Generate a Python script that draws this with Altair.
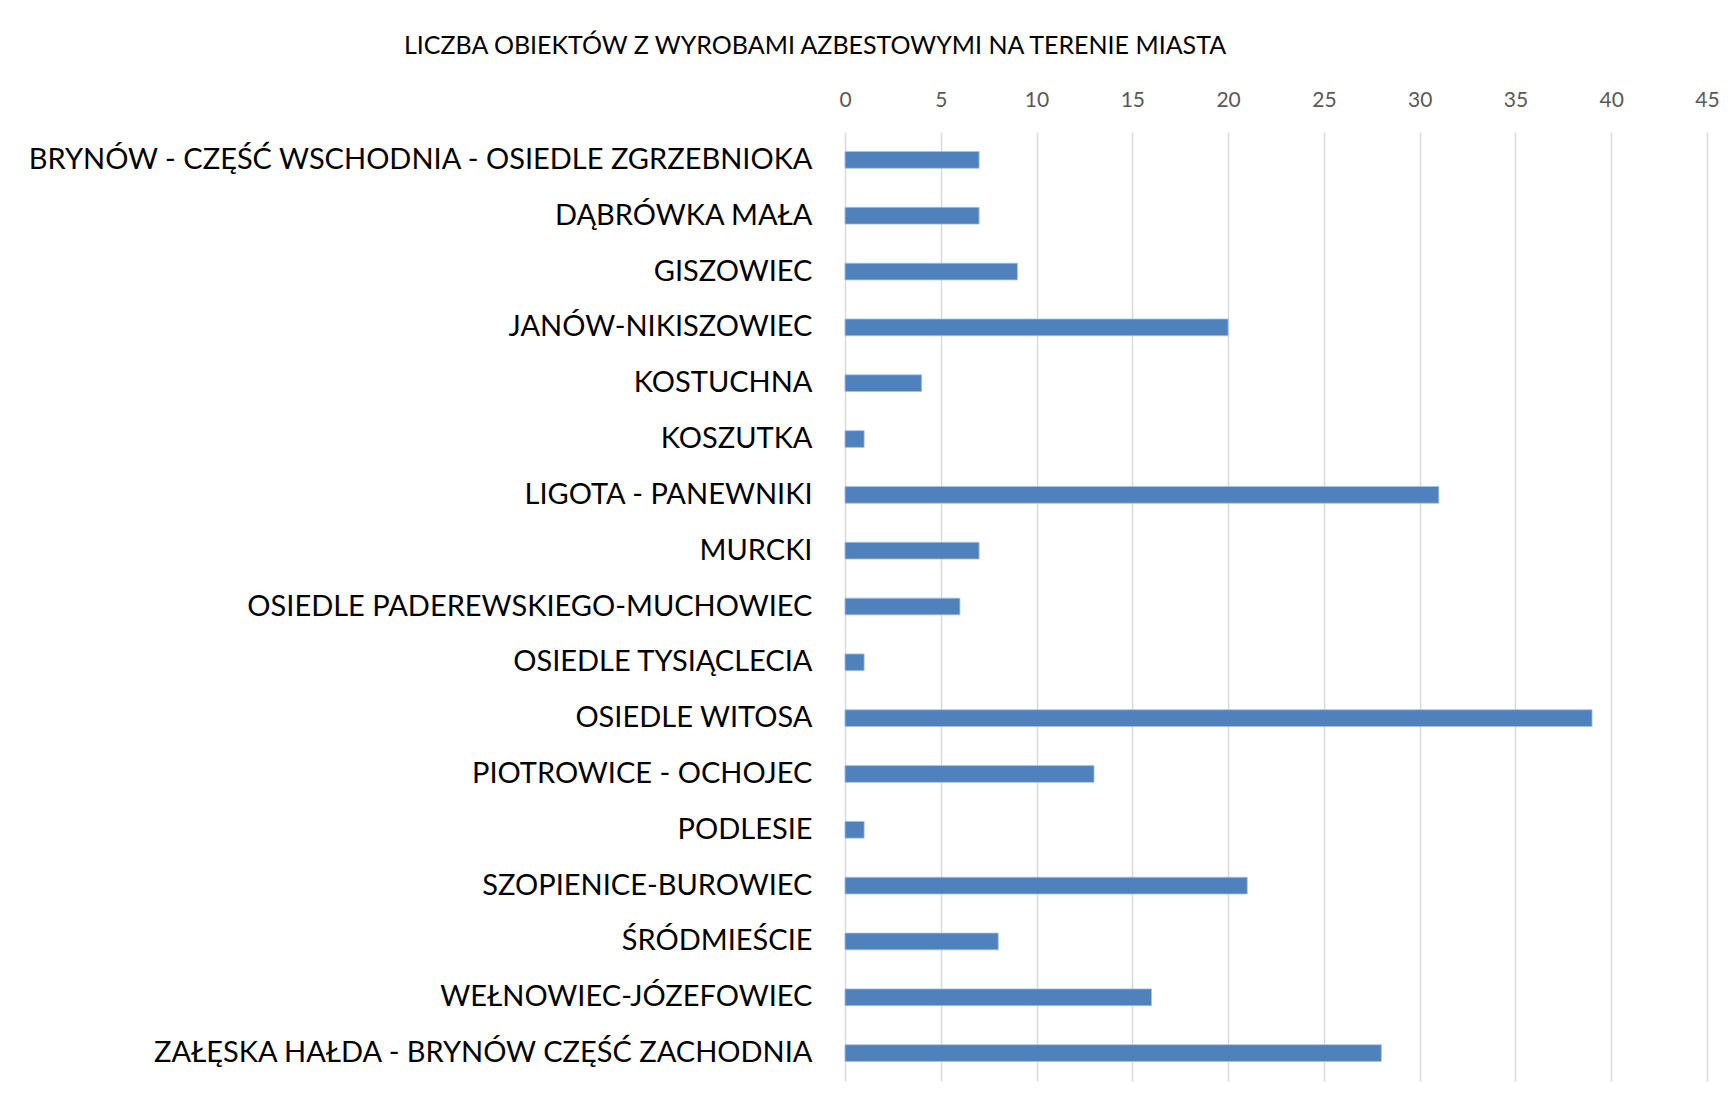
import altair as alt
import pandas as pd

categories = [
    "BRYNÓW - CZĘŚĆ WSCHODNIA - OSIEDLE ZGRZEBNIOKA",
    "DĄBRÓWKA MAŁA",
    "GISZOWIEC",
    "JANÓW-NIKISZOWIEC",
    "KOSTUCHNA",
    "KOSZUTKA",
    "LIGOTA - PANEWNIKI",
    "MURCKI",
    "OSIEDLE PADEREWSKIEGO-MUCHOWIEC",
    "OSIEDLE TYSIĄCLECIA",
    "OSIEDLE WITOSA",
    "PIOTROWICE - OCHOJEC",
    "PODLESIE",
    "SZOPIENICE-BUROWIEC",
    "ŚRÓDMIEŚCIE",
    "WEŁNOWIEC-JÓZEFOWIEC",
    "ZAŁĘSKA HAŁDA - BRYNÓW CZĘŚĆ ZACHODNIA",
]
values = [7, 7, 9, 20, 4, 1, 31, 7, 6, 1, 39, 13, 1, 21, 8, 16, 28]
x_ticks = [0, 5, 10, 15, 20, 25, 30, 35, 40, 45]
title_text = "LICZBA OBIEKTÓW Z WYROBAMI AZBESTOWYMI NA TERENIE MIASTA"

df = pd.DataFrame({"dzielnica": categories, "liczba": values})

chart = (
    alt.Chart(df)
    .mark_bar(color="#4F81BD", stroke="#A9C0DF", strokeWidth=0.8)
    .encode(
        x=alt.X(
            "liczba:Q",
            scale=alt.Scale(domain=[0, 45], nice=False, zero=True),
            axis=alt.Axis(
                orient="top",
                values=x_ticks,
                title=None,
                domain=False,
                ticks=False,
                labelFlush=False,
                labelPadding=22,
                labelFont="Lato",
                labelFontSize=21,
                labelColor="#595959",
                grid=True,
                gridColor="#D9D9D9",
                gridWidth=1.5,
            ),
        ),
        y=alt.Y(
            "dzielnica:N",
            sort=categories,
            scale=alt.Scale(paddingInner=0.70, paddingOuter=0.35),
            axis=alt.Axis(
                title=None,
                domain=False,
                ticks=False,
                grid=False,
                labelPadding=33,
                labelFont="Lato",
                labelFontSize=29,
                labelColor="#000000",
                labelLimit=0,
            ),
        ),
    )
    .properties(
        width=862,
        height=949,
        title=alt.TitleParams(
            text=title_text,
            font="Lato",
            fontSize=25,
            fontWeight="normal",
            color="#000000",
            anchor="middle",
            dx=-461,
            offset=30,
        ),
        autosize=alt.AutoSizeParams(type="none"),
        padding={"left": 837, "top": 124, "right": 12, "bottom": 10},
    )
    .configure(background="#FFFFFF")
    .configure_view(stroke=None, strokeWidth=0)
    .configure_axis(domain=False)
)

chart.save("out.html", embed_options={"renderer": "svg", "actions": False})
